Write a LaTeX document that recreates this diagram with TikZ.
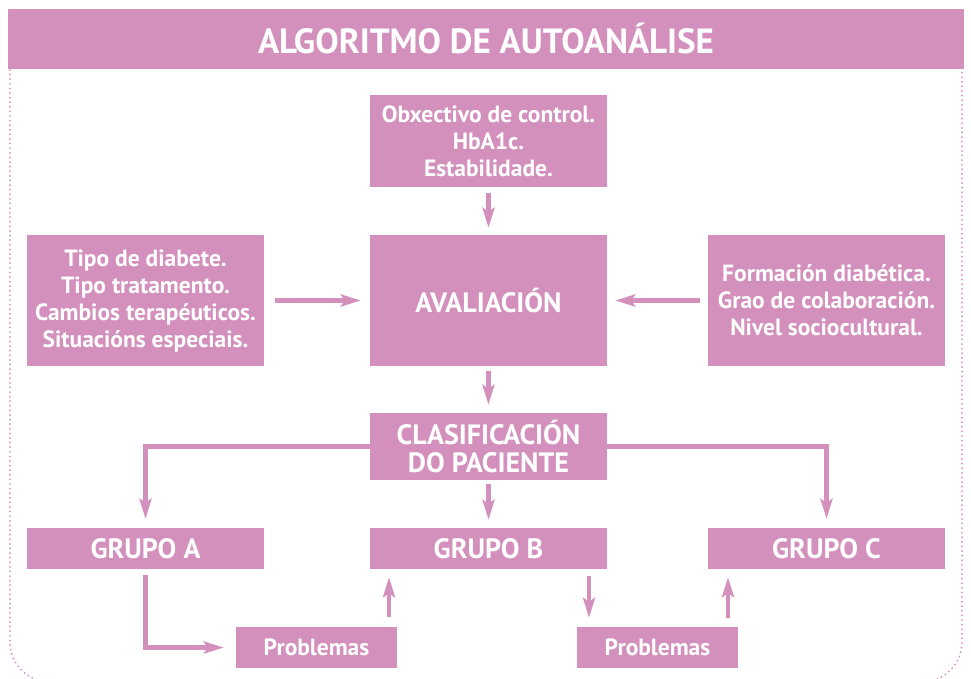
\documentclass[tikz,border=0pt]{standalone}
\usepackage{fontspec}
\setmainfont{PT Sans}
\usetikzlibrary{arrows.meta}
\definecolor{pk}{HTML}{D390BD}
\begin{document}
\begin{tikzpicture}[x=1pt,y=-1pt,
 box/.style={fill=pk, text=white, font=\bfseries\fontsize{23.5}{27}\selectfont, align=center, inner sep=0pt, minimum width=237pt},
 big/.style={font=\bfseries\fontsize{28}{28}\selectfont},
 arr/.style={draw=pk, line width=4.5pt, -{Stealth[length=20pt,width=12pt,inset=4pt]}},
 ln/.style={draw=pk, line width=4.5pt}]
\useasboundingbox (0,0) rectangle (971,678);
\begin{scope}
\clip (0,0) rectangle (971,678);
\draw[pk, line width=2pt, dash pattern=on 0pt off 4.6pt, line cap=round, rounded corners=40pt] (10,70) -- (10,682) -- (962,682) -- (962,70);
\end{scope}
\node[fill=pk, minimum width=956pt, minimum height=60pt, inner sep=0pt, text=white, font=\bfseries\fontsize{35}{35}\selectfont] (title) at (486,39) {ALGORITMO DE AUTOANÁLISE};
\node[box, minimum height=92pt] (obx) at (488.5,141) {Obxectivo de control.\\HbA1c.\\Estabilidade.};
\node[box, big, minimum height=131pt] (aval) at (488.5,300.5) {AVALIACIÓN};
\node[box, minimum height=131pt] (left) at (145.5,300.5) {Tipo de diabete.\\Tipo tratamento.\\Cambios terapéuticos.\\Situacións especiais.};
\node[box, minimum height=131pt] (right) at (826.5,300.5) {Formación diabética.\\Grao de colaboración.\\Nivel sociocultural.};
\node[box, big, minimum height=67pt, font=\bfseries\fontsize{28}{28}\selectfont] (clas) at (488.5,446.5) {CLASIFICACIÓN\\DO PACIENTE};
\node[box, big, minimum height=41pt] (gA) at (145.5,548.5) {GRUPO A};
\node[box, big, minimum height=41pt] (gB) at (488.5,548.5) {GRUPO B};
\node[box, big, minimum height=41pt] (gC) at (826.5,548.5) {GRUPO C};
\node[box, minimum height=41pt, minimum width=161pt] (p1) at (316.5,647.5) {Problemas};
\node[box, minimum height=41pt, minimum width=161pt] (p2) at (657.5,647.5) {Problemas};
% arrows
\draw[arr, shorten <=6pt, shorten >=7pt] (obx) -- (aval);
\draw[arr, shorten <=11pt, shorten >=9pt] (left) -- (aval);
\draw[arr, shorten <=8pt, shorten >=8pt] (right) -- (aval);
\draw[arr, shorten <=5pt, shorten >=8pt] (aval) -- (clas);
\draw[arr, shorten <=4pt, shorten >=8pt] (clas) -- (gB);
\draw[arr, shorten >=9pt] (clas.west) -| (gA.north);
\draw[arr, shorten >=9pt] (clas.east) -| (gC.north);
\draw[arr, shorten <=6pt, shorten >=12pt] (gA.south) |- (p1.west);
\draw[arr, shorten <=10pt, shorten >=8pt] ([xshift=72.5pt]p1.north) -- ([xshift=72.5pt]p1.north |- gB.south);
\draw[arr, shorten <=7pt, shorten >=9pt] ([xshift=100.5pt]gB.south) -- ([xshift=100.5pt]gB.south |- p2.north);
\draw[arr, shorten <=9pt, shorten >=8pt] ([xshift=70.5pt]p2.north) -- ([xshift=70.5pt]p2.north |- gC.south);
\end{tikzpicture}
\end{document}
